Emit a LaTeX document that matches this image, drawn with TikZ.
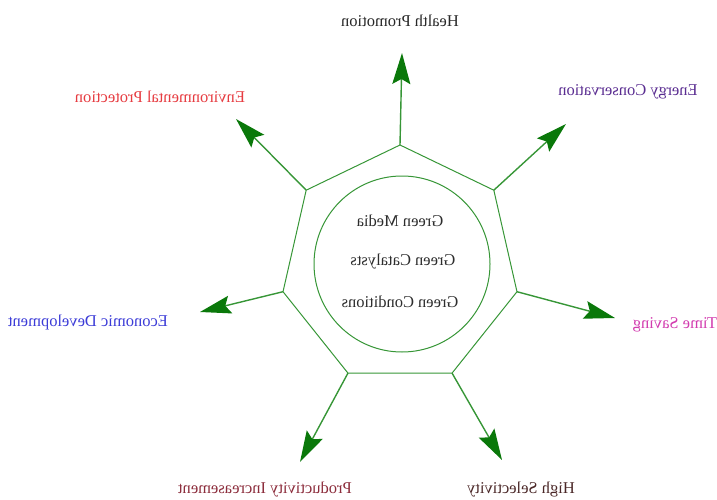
\documentclass[tikz,border=0pt]{standalone}
\usepackage{fontspec}
\setmainfont{Liberation Serif}
\usetikzlibrary{arrows.meta,calc}
\definecolor{lineg}{RGB}{55,150,55}
\definecolor{headg}{RGB}{10,120,10}
\definecolor{cHealth}{RGB}{40,40,40}
\definecolor{cEnv}{RGB}{230,60,65}
\definecolor{cEnergy}{RGB}{90,45,145}
\definecolor{cEcon}{RGB}{60,60,215}
\definecolor{cTime}{RGB}{210,60,175}
\definecolor{cProd}{RGB}{140,45,60}
\definecolor{cHigh}{RGB}{75,40,40}
\definecolor{cCenter}{RGB}{45,45,45}
\begin{document}
\begin{tikzpicture}[x=1pt,y=-1pt,
  shape line/.style={draw=lineg,line width=1pt},
  arr/.style={draw=lineg,line width=1.4pt,-{Stealth[length=31pt,width=18pt,inset=5pt,color=headg]}},
  lbl/.style={font=\fontsize{16.5}{20}\selectfont,inner sep=0pt,anchor=center}]
\useasboundingbox (0,0) rectangle (717,500);
\coordinate (c) at (400,265);
\foreach \i/\a in {1/90,2/38.57,3/-12.86,4/-64.29,5/-115.71,6/-167.14,7/141.43}
  \coordinate (v\i) at ($(c)+(\a:120pt)$);
\draw[shape line] (v1)--(v2)--(v3)--(v4)--(v5)--(v6)--(v7)--cycle;
\node[shape line,circle,minimum size=176pt,inner sep=0pt] (core) at (402,264) {};
% tips
\coordinate (t1) at (402,53);
\coordinate (t2) at (566,124);
\coordinate (t3) at (615,318);
\coordinate (t4) at (502,460);
\coordinate (t5) at (300,462);
\coordinate (t6) at (200,312);
\coordinate (t7) at (236,119);
\foreach \i in {1,...,7} \draw[arr] (v\i) -- (t\i);
% labels (mirrored)
\node[lbl,text=cHealth] (l1) at (400,21) {\reflectbox{Health Promotion}};
\node[lbl,text=cEnergy] (l2) at (628,92) {\reflectbox{Energy Conservation}};
\node[lbl,text=cTime] (l3) at (675,325) {\reflectbox{Time Saving}};
\node[lbl,text=cHigh] (l4) at (521,490) {\reflectbox{High Selectivity}};
\node[lbl,text=cProd] (l5) at (265,490) {\reflectbox{Productivity Increasement}};
\node[lbl,text=cEcon] (l6) at (88,323) {\reflectbox{Economic Development}};
\node[lbl,text=cEnv] (l7) at (160,97) {\reflectbox{Environmental Protection}};
\node[lbl,text=cCenter] (g1) at (400,221) {\reflectbox{Green Media}};
\node[lbl,text=cCenter] (g2) at (403,262) {\reflectbox{Green Catalysts}};
\node[lbl,text=cCenter] (g3) at (400,302) {\reflectbox{Green Conditions}};
\end{tikzpicture}
\end{document}
